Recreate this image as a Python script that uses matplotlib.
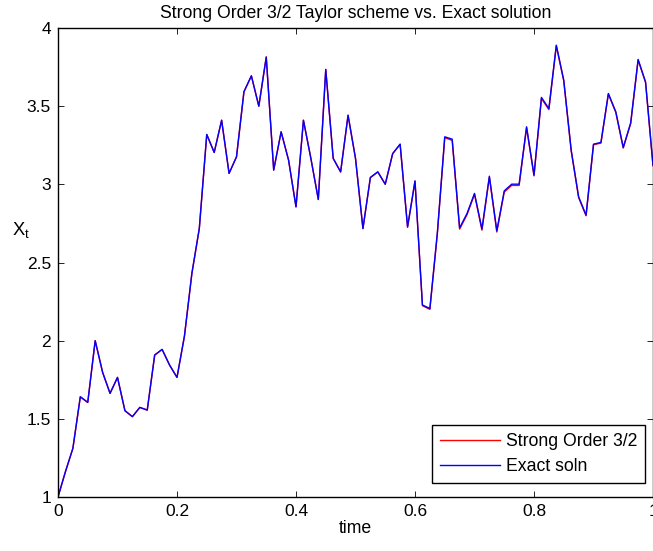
"""Strong order 3/2 Taylor scheme vs exact solution, single sample path."""

import matplotlib

matplotlib.use("Agg")
import matplotlib.pyplot as plt  # noqa: E402

plt.rcParams["font.family"] = ["Liberation Sans", "DejaVu Sans"]

# time grid: 81 points, step 1/80
t = [i / 80 for i in range(81)]

exact = [1.000, 1.162, 1.311, 1.641, 1.605, 2.000, 1.797, 1.663, 1.765, 1.552,
         1.514, 1.573, 1.556, 1.908, 1.944, 1.844, 1.765, 2.029, 2.430, 2.718,
         3.319, 3.204, 3.410, 3.070, 3.176, 3.592, 3.694, 3.500, 3.813, 3.091,
         3.336, 3.155, 2.856, 3.410, 3.166, 2.903, 3.735, 3.166, 3.080, 3.442,
         3.166, 2.718, 3.044, 3.080, 3.001, 3.197, 3.257, 2.728, 3.022, 2.228,
         2.206, 2.686, 3.304, 3.289, 2.721, 2.814, 2.942, 2.714, 3.052, 2.703,
         2.958, 3.001, 3.001, 3.368, 3.059, 3.556, 3.485, 3.890, 3.666, 3.219,
         2.920, 2.803, 3.257, 3.268, 3.581, 3.464, 3.236, 3.393, 3.799, 3.655,
         3.123]

taylor = [1.000, 1.162, 1.311, 1.641, 1.605, 2.000, 1.797, 1.663, 1.765, 1.552,
          1.514, 1.573, 1.556, 1.908, 1.944, 1.844, 1.765, 2.029, 2.430, 2.718,
          3.319, 3.204, 3.410, 3.070, 3.176, 3.592, 3.694, 3.500, 3.816, 3.091,
          3.336, 3.155, 2.856, 3.410, 3.166, 2.903, 3.735, 3.166, 3.079, 3.442,
          3.166, 2.716, 3.043, 3.079, 3.000, 3.196, 3.256, 2.725, 3.020, 2.224,
          2.200, 2.682, 3.299, 3.281, 2.714, 2.807, 2.936, 2.707, 3.046, 2.695,
          2.951, 2.993, 2.993, 3.362, 3.054, 3.549, 3.478, 3.886, 3.662, 3.214,
          2.916, 2.799, 3.253, 3.264, 3.577, 3.460, 3.232, 3.389, 3.795, 3.651,
          3.118]

FS = 12.7

fig = plt.figure(figsize=(6.53, 5.51), dpi=100)
ax = fig.add_axes([58 / 653, 54 / 551, 595 / 653, 469 / 551])

ax.plot(t, taylor, color="#ff0000", lw=1.0, label="Strong Order 3/2")
ax.plot(t, exact, color="#0000ff", lw=1.0, label="Exact soln")

ax.set_xlim(0, 1)
ax.set_ylim(1, 4)
ax.set_xticks([0, 0.2, 0.4, 0.6, 0.8, 1])
ax.set_xticklabels(["0", "0.2", "0.4", "0.6", "0.8", "1"])
ax.set_yticks([1, 1.5, 2, 2.5, 3, 3.5, 4])
ax.set_yticklabels(["1", "1.5", "2", "2.5", "3", "3.5", "4"])
ax.tick_params(direction="in", top=True, right=True, length=4, width=0.6,
               labelsize=12.5, pad=5)
for s in ax.spines.values():
    s.set_linewidth(1.0)

ax.set_title("Strong Order 3/2 Taylor scheme vs. Exact solution", fontsize=FS, pad=7)
ax.set_xlabel("time", fontsize=FS, labelpad=1)
ax.set_ylabel("X$_\\mathregular{t}$", fontsize=FS + 0.5, rotation=0)
ax.yaxis.set_label_coords(-0.062, 0.548)

leg = ax.legend(loc="lower right", fontsize=FS, fancybox=False, framealpha=1,
                edgecolor="black", handlelength=3.4, handletextpad=0.35,
                borderpad=0.45, labelspacing=0.45, borderaxespad=0,
                bbox_to_anchor=(0.9866, 0.030))
leg.get_frame().set_linewidth(1.0)

fig.savefig("out.png", dpi=100)
